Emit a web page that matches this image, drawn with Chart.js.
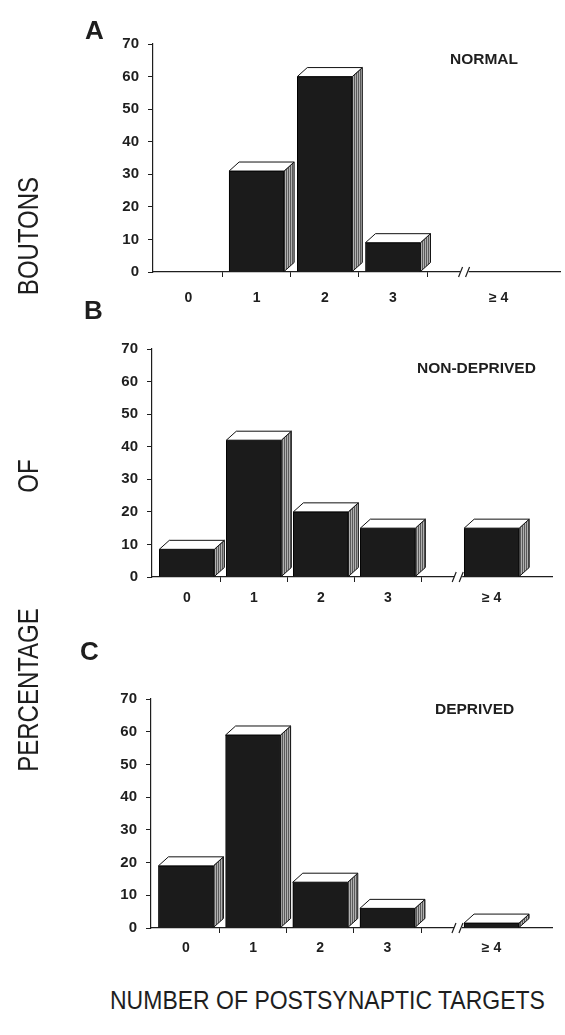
<!DOCTYPE html>
<html>
<head>
<meta charset="utf-8">
<script src="https://cdn.jsdelivr.net/npm/chart.js@4"></script>
<style>
  body { margin: 0; background: #fff; }
  #wrap { position: relative; width: 565px; height: 1035px; font-family: "Liberation Sans", Arial, sans-serif; color: #1e1e1e; }
  #wrap canvas { position: absolute; left: 0; }
  .panel { position: absolute; font-weight: bold; font-size: 26px; line-height: 1; }
  .note { position: absolute; font-weight: bold; font-size: 15.5px; line-height: 1; white-space: nowrap; }
  .ytitle { position: absolute; font-size: 24px; line-height: 1; white-space: nowrap; transform: translate(-50%, -50%) rotate(-90deg) scaleY(1.25); }
  .xtitle { position: absolute; font-size: 23px; line-height: 1; white-space: nowrap; transform: scaleY(1.15); transform-origin: left center; }
</style>
</head>
<body>
<div id="wrap">
  <canvas id="chartA" width="565" height="320" style="top:0px"></canvas>
  <canvas id="chartB" width="565" height="320" style="top:320px"></canvas>
  <canvas id="chartC" width="565" height="340" style="top:640px"></canvas>

  <div class="panel" style="left:85px;top:17px">A</div>
  <div class="panel" style="left:84px;top:297px">B</div>
  <div class="panel" style="left:80px;top:638px">C</div>

  <div class="note" style="left:450px;top:51px">NORMAL</div>
  <div class="note" style="left:417px;top:360px">NON-DEPRIVED</div>
  <div class="note" style="left:435px;top:701px">DEPRIVED</div>

  <div class="ytitle" style="left:28px;top:236px">BOUTONS</div>
  <div class="ytitle" style="left:28px;top:476px">OF</div>
  <div class="ytitle" style="left:28px;top:690px">PERCENTAGE</div>

  <div class="xtitle" style="left:110px;top:989px">NUMBER OF POSTSYNAPTIC TARGETS</div>
</div>

<script>
// 数据：三个面板共用类别
const categories = ['0', '1', '2', '3', '\u2265 4'];
const catPositions = [0, 1, 2, 3, 4.55];   // ≥4 放在断轴之后
const boundaryTicks = [0.5, 1.5, 2.5, 3.5];
const breakAt = 4.05;

const normalValues = [0, 31, 60, 9, 0];
const nonDeprivedValues = [8.5, 42, 20, 15, 15];
const deprivedValues = [19, 59, 14, 6, 1.5];

const yMin = 0, yMax = 70, yStep = 5;

const INK = '#1e1e1e';
const FONT = 'Liberation Sans';

// 侧面灰色细纹
function makeSidePattern() {
  const c = document.createElement('canvas');
  c.width = 2; c.height = 2;
  const g = c.getContext('2d');
  g.fillStyle = '#b0b0b0'; g.fillRect(0, 0, 2, 2);
  g.fillStyle = '#5a5a5a'; g.fillRect(0, 0, 1, 2);
  return g.createPattern(c, 'repeat');
}

// 立体柱：在柱子上方和右侧补画顶面和侧面
const bar3d = {
  id: 'bar3d',
  afterDatasetsDraw(chart) {
    const ctx = chart.ctx;
    const meta = chart.getDatasetMeta(0);
    const pattern = makeSidePattern();
    const dx = 10, dy = 9;
    meta.data.forEach((bar, i) => {
      const v = chart.data.datasets[0].data[i].y;
      if (!v) return;
      const p = bar.getProps(['x', 'y', 'base', 'width'], true);
      const l = p.x - p.width / 2, r = p.x + p.width / 2, t = p.y, b = p.base;
      ctx.save();
      ctx.lineWidth = 1;
      ctx.strokeStyle = '#111';
      ctx.lineJoin = 'round';
      ctx.beginPath();
      ctx.moveTo(r, t); ctx.lineTo(r + dx, t - dy); ctx.lineTo(r + dx, b - dy); ctx.lineTo(r, b);
      ctx.closePath();
      ctx.fillStyle = pattern; ctx.fill(); ctx.stroke();
      ctx.beginPath();
      ctx.moveTo(l, t); ctx.lineTo(l + dx, t - dy); ctx.lineTo(r + dx, t - dy); ctx.lineTo(r, t);
      ctx.closePath();
      ctx.fillStyle = '#fff'; ctx.fill(); ctx.stroke();
      ctx.restore();
    });
  }
};

// 断轴记号 //
const axisBreak = {
  id: 'axisBreak',
  afterDraw(chart) {
    const ctx = chart.ctx;
    const x = chart.scales.x.getPixelForValue(breakAt);
    const y = chart.chartArea.bottom;
    ctx.save();
    ctx.fillStyle = '#fff';
    ctx.fillRect(x - 4, y - 2, 8, 4);
    ctx.strokeStyle = INK;
    ctx.lineWidth = 1.2;
    ctx.beginPath();
    ctx.moveTo(x - 6, y + 5); ctx.lineTo(x - 2, y - 5);
    ctx.moveTo(x + 1, y + 5); ctx.lineTo(x + 5, y - 5);
    ctx.stroke();
    ctx.restore();
  }
};

function makePanel(id, values, area, canvasTop, canvasH, labelPad) {
  const Y_W = 40, X_H = 6, X2_H = 34;
  const xMin = -0.52, xMax = 5.45;
  return new Chart(document.getElementById(id), {
    type: 'bar',
    data: {
      datasets: [{
        data: values.map((v, i) => ({ x: catPositions[i], y: v })),
        backgroundColor: '#1b1b1b',
        borderColor: '#000',
        borderWidth: 1,
        barThickness: 55
      }]
    },
    options: {
      responsive: false,
      animation: false,
      events: [],
      layout: {
        padding: {
          left: area.left - Y_W,
          right: 565 - area.right,
          top: area.top - canvasTop,
          bottom: canvasTop + canvasH - area.bottom - X_H - X2_H
        }
      },
      plugins: { legend: { display: false }, tooltip: { enabled: false } },
      scales: {
        y: {
          min: yMin, max: yMax,
          grid: { drawOnChartArea: false, tickLength: 5, color: INK },
          border: { display: true, color: INK, width: 1.2 },
          ticks: {
            stepSize: yStep,
            padding: 9,
            color: INK,
            font: { family: FONT, size: 15, weight: 'bold' },
            callback: v => (v % 10 === 0 ? v : '')
          },
          afterFit: s => { s.width = Y_W; }
        },
        x: {
          type: 'linear', position: 'bottom', weight: 0,
          min: xMin, max: xMax, offset: false,
          grid: { drawOnChartArea: false, offset: false, tickLength: 5, color: INK },
          border: { display: true, color: INK, width: 1.2 },
          ticks: { display: false },
          afterBuildTicks: s => { s.ticks = boundaryTicks.map(v => ({ value: v })); },
          afterFit: s => { s.height = X_H; }
        },
        x2: {
          type: 'linear', position: 'bottom', weight: 1,
          min: xMin, max: xMax, offset: false,
          grid: { display: false, drawTicks: false, offset: false },
          border: { display: false },
          ticks: {
            padding: labelPad,
            maxRotation: 0,
            autoSkip: false,
            color: INK,
            font: { family: FONT, size: 14, weight: 'bold' },
            callback: (v, i) => categories[i]
          },
          afterBuildTicks: s => { s.ticks = catPositions.map(v => ({ value: v })); },
          afterFit: s => { s.height = X2_H; }
        }
      }
    },
    plugins: [bar3d, axisBreak]
  });
}

makePanel('chartA', normalValues, { left: 153, right: 560, top: 44, bottom: 272 }, 0, 320, 12);
makePanel('chartB', nonDeprivedValues, { left: 152, right: 552, top: 349, bottom: 577 }, 320, 320, 7);
makePanel('chartC', deprivedValues, { left: 151, right: 552, top: 699, bottom: 928 }, 640, 340, 6);
</script>
</body>
</html>
